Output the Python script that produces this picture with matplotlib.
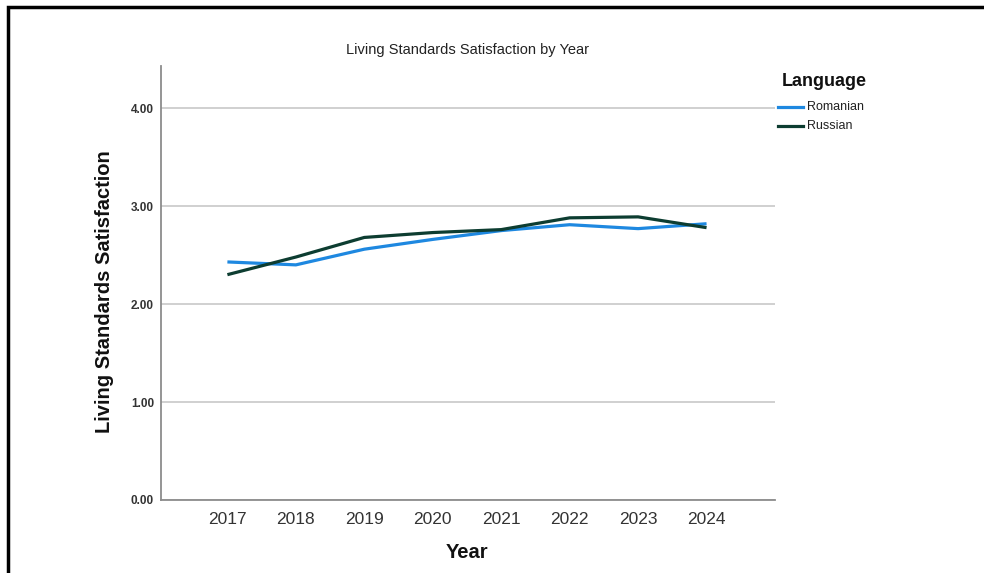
import numpy as np
import matplotlib.pyplot as plt
from matplotlib.patches import Rectangle
from matplotlib.lines import Line2D

plt.rcParams['font.family'] = ['Liberation Sans', 'DejaVu Sans']

# data
years = ["2017", "2018", "2019", "2020", "2021", "2022", "2023", "2024"]
romanian = [2.43, 2.40, 2.56, 2.66, 2.75, 2.81, 2.77, 2.82]
russian = [2.30, 2.48, 2.68, 2.73, 2.76, 2.88, 2.89, 2.78]
series_names = ["Romanian", "Russian"]
series_colors = ["#1e88e0", "#0d3d31"]
y_ticks = [0.0, 1.0, 2.0, 3.0, 4.0]

fig = plt.figure(figsize=(9.84, 5.73), dpi=100)
ax = fig.add_axes([161/984, 1 - 500/573, (775 - 161)/984, (500 - 66)/573])

x = np.arange(len(years))
for vals, name, col in zip([romanian, russian], series_names, series_colors):
    ax.plot(x, vals, color=col, linewidth=2.3, label=name, solid_capstyle='butt')

ax.set_xlim(-0.97, 8.0)
ax.set_ylim(0, 4.43)
ax.set_xticks(x)
ax.set_xticklabels(years, fontsize=12.5, color="#333333")
ax.set_yticks(y_ticks)
ax.set_yticklabels([f"{v:.2f}" for v in y_ticks], fontsize=8.5, color="#333333",
                   fontweight='semibold')
ax.tick_params(length=0, pad=5)
ax.tick_params(axis='x', pad=9)

ax.grid(axis='y', color="#c8c8c8", linewidth=1.2)
ax.set_axisbelow(True)
for side in ["top", "right"]:
    ax.spines[side].set_visible(False)
for side in ["left", "bottom"]:
    ax.spines[side].set_color("#8c8c8c")
    ax.spines[side].set_linewidth(1.3)

fig.text(467/984, 1 - 50/573, "Living Standards Satisfaction by Year",
         ha='center', va='center', fontsize=10.5, color="#222222")
fig.text(467/984, 1 - 553/573, "Year", ha='center', va='center',
         fontsize=14.5, fontweight='bold', color="#111111")
fig.text(105/984, 1 - 292/573, "Living Standards Satisfaction", ha='center',
         va='center', rotation=90, fontsize=14.5, fontweight='bold', color="#111111")

# legend drawn by hand to the right of the plot
fig.text(782/984, 1 - 82/573, "Language", ha='left', va='center',
         fontsize=13, fontweight='bold', color="#111111")
for i, (name, col) in enumerate(zip(series_names, series_colors)):
    yy = 1 - (107 + i * 19)/573
    fig.add_artist(Line2D([778/984, 803/984], [yy, yy], color=col, linewidth=2.3))
    fig.text(807/984, yy, name, ha='left', va='center', fontsize=9,
             color="#222222")

# screenshot frame
fig.add_artist(Rectangle((8/984, -0.1), 1.2, 1 - 7/573 + 0.1, fill=False,
                         edgecolor='black', linewidth=2.5, transform=fig.transFigure))

fig.savefig("out.png", dpi=100)
